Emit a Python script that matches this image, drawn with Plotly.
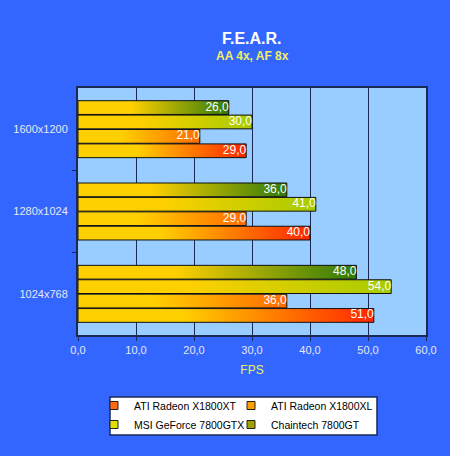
import plotly.graph_objects as go

categories = ["1600x1200", "1280x1024", "1024x768"]
series_names = ["Chaintech 7800GT", "MSI GeForce 7800GTX", "ATI Radeon X1800XL", "ATI Radeon X1800XT"]
chaintech = [26.0, 36.0, 48.0]
msi = [30.0, 41.0, 54.0]
x1800xl = [21.0, 29.0, 36.0]
x1800xt = [29.0, 40.0, 51.0]
x_ticks = [0, 10, 20, 30, 40, 50, 60]

series_values = [chaintech, msi, x1800xl, x1800xt]
end_colors = ["#2E7A0A", "#A6CC00", "#FF6A00", "#FF2400"]
legend_colors = {"ATI Radeon X1800XT": "#FF6A10", "ATI Radeon X1800XL": "#FFA000",
                 "MSI GeForce 7800GTX": "#E0E000", "Chaintech 7800GT": "#A0A000"}
legend_groups = {"ATI Radeon X1800XT": "legend", "MSI GeForce 7800GTX": "legend",
                 "ATI Radeon X1800XL": "legend2", "Chaintech 7800GT": "legend2"}
legend_order = ["ATI Radeon X1800XT", "MSI GeForce 7800GTX", "ATI Radeon X1800XL", "Chaintech 7800GT"]
start_color = "#FFD000"

bar_h = 0.175
fig = go.Figure()
for si, (name, vals) in enumerate(zip(series_names, series_values)):
    off = (si - 1.5) * bar_h
    for gi, v in enumerate(vals):
        yc = gi + off
        y0, y1 = yc - bar_h / 2 + 0.004, yc + bar_h / 2 - 0.004
        fig.add_trace(go.Scatter(
            x=[0, v, v, 0, 0], y=[y0, y0, y1, y1, y0],
            mode="lines", fill="toself",
            line=dict(color="#111111", width=1),
            fillgradient=dict(type="horizontal",
                              colorscale=[[0, start_color], [0.35, start_color], [1, end_colors[si]]]),
            showlegend=False, hoverinfo="skip"))
    fig.add_trace(go.Scatter(
        x=vals, y=[gi + off for gi in range(len(vals))],
        mode="text", text=[f"{v:.1f}".replace(".", ",") for v in vals],
        textposition="middle left",
        textfont=dict(family="Arial", size=12, color="white"),
        showlegend=False, hoverinfo="skip"))

for name in legend_order:
    fig.add_trace(go.Scatter(
        x=[None], y=[None], mode="markers", name=name, legend=legend_groups[name],
        marker=dict(symbol="square", size=8, color=legend_colors[name],
                    line=dict(color="#222222", width=1))))

legend_common = dict(orientation="v", xref="container", yref="container",
                     y=1 - 391 / 456, xanchor="left", yanchor="top",
                     bgcolor="rgba(0,0,0,0)", borderwidth=0, itemwidth=30,
                     font=dict(family="Arial", size=10.5, color="black"), tracegroupgap=0)

fig.update_layout(
    width=450, height=456,
    paper_bgcolor="#3366FF", plot_bgcolor="#99CCFF",
    margin=dict(l=78, r=24, t=88, b=121, autoexpand=False),
    separators=",.",
    annotations=[
        dict(text="<b>F.E.A.R.</b>", x=0.5, xref="paper", y=1.202, yref="paper",
             xanchor="center", yanchor="middle", showarrow=False,
             font=dict(family="Arial", size=16, color="white")),
        dict(text="<b>AA 4x, AF 8x</b>", x=0.5, xref="paper", y=1.130, yref="paper",
             xanchor="center", yanchor="middle", showarrow=False,
             font=dict(family="Arial", size=12, color="#F0F060")),
    ],
    shapes=[
        dict(type="rect", xref="paper", yref="paper",
             x0=(110 - 78) / 348, x1=(377 - 78) / 348,
             y0=(335 - 435) / 247, y1=(335 - 397) / 247,
             fillcolor="white", line=dict(color="#1A2A55", width=1.5), layer="below"),
    ],
    xaxis=dict(range=[0, 60], tickvals=x_ticks, tickformat=".1f",
               showgrid=True, gridcolor="#1A2A55", gridwidth=1,
               showline=True, linecolor="#1A2A55", linewidth=2, mirror=True,
               ticks="outside", ticklen=4, tickcolor="#1A2A55",
               tickfont=dict(family="Arial", size=11, color="#E8E8F0"),
               title=dict(text="FPS", font=dict(family="Arial", size=12, color="#F0F060"), standoff=10),
               zeroline=False, fixedrange=True),
    yaxis=dict(range=[2.5, -0.5], tickvals=[0, 1, 2], ticktext=categories,
               showgrid=False, showline=True, linecolor="#1A2A55", linewidth=2, mirror=True,
               ticks="", ticklabelstandoff=6,
               minor=dict(tickvals=[0.5, 1.5], ticks="outside", ticklen=4, tickcolor="#1A2A55", showgrid=False),
               tickfont=dict(family="Arial", size=11, color="#E8E8F0"),
               zeroline=False, fixedrange=True),
    legend=dict(x=94 / 450, **legend_common),
    legend2=dict(x=231 / 450, **legend_common),
)

fig.write_html("out.html")
